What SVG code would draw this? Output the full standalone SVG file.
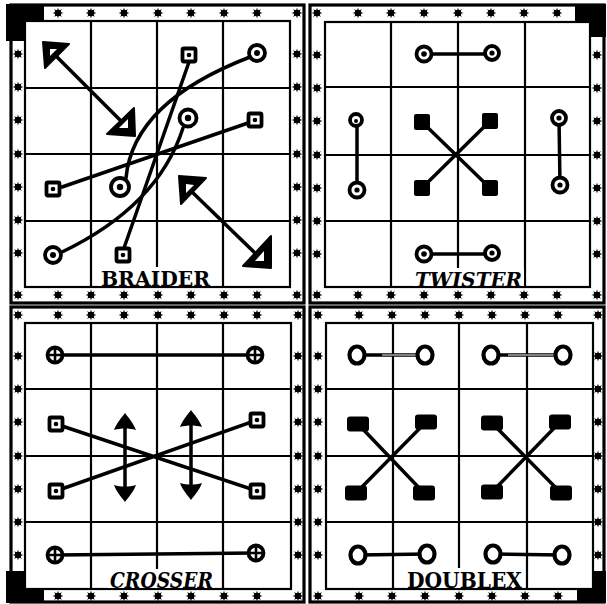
<svg xmlns="http://www.w3.org/2000/svg" xmlns:xlink="http://www.w3.org/1999/xlink" width="607" height="604" viewBox="0 0 607 604">
<style>
.g{stroke:#000;stroke-width:2.2;fill:none}
.fr{stroke:#000;stroke-width:3.2;fill:none}
.blk{fill:#000}
.c{stroke:#000;stroke-width:3.5;fill:none;stroke-linecap:round}
.ring{fill:#fff;stroke:#000;stroke-width:3.8}
.lbl{font-family:"DejaVu Serif","Liberation Serif",serif;font-weight:bold;fill:#000}
.it{font-style:italic}
.bg{fill:#fff}
</style>
<defs>
<g id="s"><polygon points="5.5,0 2.2,0.9 3.9,3.9 0.9,2.2 0,5.5 -0.9,2.2 -3.9,3.9 -2.2,0.9 -5.5,0 -2.2,-0.9 -3.9,-3.9 -0.9,-2.2 0,-5.5 0.9,-2.2 3.9,-3.9 2.2,-0.9" fill="#000"/><circle r="3.3" fill="#000"/></g>
<g id="hrow"><use href="#s" x="33"/><use href="#s" x="66"/><use href="#s" x="99"/><use href="#s" x="133"/><use href="#s" x="166"/><use href="#s" x="199"/><use href="#s" x="232"/></g>
<g id="vrow"><use href="#s" y="33"/><use href="#s" y="66"/><use href="#s" y="99"/><use href="#s" y="133"/><use href="#s" y="166"/><use href="#s" y="199"/><use href="#s" y="232"/></g>
<g id="sqdot"><rect x="-6.5" y="-6.5" width="13" height="13" rx="1.5" fill="#fff" stroke="#000" stroke-width="3.8"/><circle r="2.3" fill="#000"/></g>
<g id="xc"><circle r="7.5" fill="#fff" stroke="#000" stroke-width="3.8"/><path d="M-7,0H7M0,-7V7" stroke="#000" stroke-width="2.6"/></g>
<rect id="fsq" x="-8" y="-8" width="16" height="16" rx="2" fill="#000"/>
<rect id="frect" x="-11" y="-7.5" width="22" height="15" rx="3" fill="#000"/>
<ellipse id="oring" rx="7.5" ry="8.5" fill="#fff" stroke="#000" stroke-width="4.2"/>
<path id="ah" d="M0,0 C3,4 9,11 11,17 C4,15 -4,15 -11,17 C-9,11 -3,4 0,0Z" fill="#000"/>
</defs>
<rect width="607" height="604" fill="#fff"/>

<g id="panel-braider">
<rect class="fr" x="11" y="5" width="293" height="298"/>
<rect class="g" x="25" y="21" width="265" height="266"/>
<path class="g" d="M91,21V287M157,21V287M223,21V287M25,88H290M25,154H290M25,221H290"/>
<use href="#hrow" x="25" y="13"/><use href="#hrow" x="25" y="295"/>
<use href="#vrow" x="18" y="21"/><use href="#vrow" x="297" y="21"/>
<use href="#s" x="297" y="13"/><use href="#s" x="18" y="295"/><use href="#s" x="297" y="295"/>
<path class="blk" d="M6,4H44V20H24V41H6Z"/>
</g>

<g id="panel-twister">
<rect class="fr" x="310" y="5" width="294" height="298"/>
<rect class="g" x="325" y="22" width="265" height="265"/>
<path class="g" d="M391,22V287M458,22V287M525,22V287M325,87H590M325,155H590M325,221H590"/>
<use href="#hrow" x="325" y="13"/><use href="#hrow" x="325" y="295"/>
<use href="#vrow" x="317" y="22"/><use href="#vrow" x="597" y="22"/>
<use href="#s" x="317" y="13"/><use href="#s" x="317" y="295"/><use href="#s" x="597" y="295"/>
<path class="blk" d="M575,4H606V37H591V21H575Z"/>
</g>

<g id="panel-crosser">
<rect class="fr" x="11" y="307" width="293" height="295"/>
<rect class="g" x="25" y="323" width="266" height="266"/>
<path class="g" d="M91,323V589M157,323V589M223,323V589M25,389H291M25,456H291M25,522H291"/>
<use href="#hrow" x="25" y="315"/><use href="#hrow" x="25" y="596"/>
<use href="#vrow" x="18" y="323"/><use href="#vrow" x="298" y="323"/>
<use href="#s" x="18" y="315"/><use href="#s" x="298" y="315"/><use href="#s" x="298" y="596"/>
<path class="blk" d="M6,571H24V589H44V603H6Z"/>
</g>

<g id="panel-doublex">
<rect class="fr" x="310" y="307" width="294" height="295"/>
<rect class="g" x="326" y="323" width="267" height="266"/>
<path class="g" d="M393,323V589M459,323V589M527,323V589M326,389H593M326,456H593M326,522H593"/>
<use href="#hrow" x="326" y="315"/><use href="#hrow" x="326" y="596"/>
<use href="#vrow" x="318" y="323"/><use href="#vrow" x="598" y="323"/>
<use href="#s" x="318" y="315"/><use href="#s" x="598" y="315"/><use href="#s" x="318" y="596"/>
<path class="blk" d="M592,571H606V603H577V589H592Z"/>
</g>

<g id="connectors">
<!-- braider -->
<path class="c" d="M189,62L124,248"/>
<path class="c" d="M248,123L62,187"/>
<path class="c" d="M250,57Q133,102 126,178"/>
<path class="c" d="M183,128Q158,206 62,252"/>
<path class="c" stroke-width="4.5" d="M56,56L122,122"/>
<path class="c" stroke-width="6" d="M190,190L258,256"/>
<polygon points="43,42 69,44 45,68" fill="#000" stroke="#000" stroke-width="2" stroke-linejoin="round"/>
<polygon points="50,49 57,49 50,56" fill="#fff"/>
<polygon points="134,108 135,136 107,134" fill="#000" stroke="#000" stroke-width="2" stroke-linejoin="round"/>
<polygon points="128,119 128,128 119,128" fill="#fff"/>
<polygon points="179,176 206,178 181,204" fill="#000" stroke="#000" stroke-width="2" stroke-linejoin="round"/>
<polygon points="186,184 194,185 186,193" fill="#fff"/>
<polygon points="271,236 271,268 243,266" fill="#000" stroke="#000" stroke-width="2" stroke-linejoin="round"/>
<polygon points="264,251 264,261 255,261" fill="#fff"/>
<!-- twister -->
<path class="c" stroke-width="3.8" d="M424,54H492M357,120V190M559,118L560,185M424,254H492"/>
<path class="c" stroke-width="4.2" d="M422,122L490,188M490,121L422,188"/>
<!-- crosser -->
<path class="c" stroke-width="4.8" d="M55,355H255M55,555L256,553"/>
<path class="c" stroke-width="3.8" d="M56,424L257,491M56,491L257,420"/>
<path class="c" stroke-width="7" stroke-linecap="butt" d="M125,425V490M191,422V488"/>
<use href="#ah" transform="translate(125,413)"/>
<use href="#ah" transform="translate(125,502) rotate(180)"/>
<use href="#ah" transform="translate(191,410)"/>
<use href="#ah" transform="translate(191,500) rotate(180)"/>
<!-- doublex -->
<path class="c" stroke-width="6" d="M357,355H425M491,355H563"/>
<path stroke="#fff" stroke-width="1" d="M382,355H417M508,355H555"/>
<path class="c" stroke-width="5" d="M358,555L427,554M493,554L562,555"/>
<path class="c" stroke-width="4.5" d="M358,424L424,493M426,422L356,493M492,423L561,493M560,422L492,492"/>
</g>

<g id="braider-nodes">
<g id="b-sq1"><use href="#sqdot" x="189" y="55"/></g>
<g id="b-sq2"><use href="#sqdot" x="255" y="120"/></g>
<g id="b-sq3"><use href="#sqdot" x="53" y="189"/></g>
<g id="b-sq4"><use href="#sqdot" x="123" y="255"/></g>
<g id="b-c1"><circle class="ring" cx="257" cy="53" r="8"/><circle cx="257" cy="53" r="3" fill="#000"/></g>
<g id="b-c2"><circle class="ring" cx="188" cy="118" r="8.5"/><circle cx="188" cy="118" r="3.2" fill="#000"/></g>
<g id="b-c3"><circle class="ring" cx="120" cy="187" r="9"/><circle cx="120" cy="187" r="3.2" fill="#000"/></g>
<g id="b-c4"><circle class="ring" cx="53" cy="255" r="8"/><circle cx="53" cy="255" r="3" fill="#000"/></g>
</g>

<g id="twister-nodes">
<g id="t-c1"><circle class="ring" cx="424" cy="54" r="7.5"/><circle cx="424" cy="54" r="2.8" fill="#000"/></g>
<g id="t-c2"><circle class="ring" cx="492" cy="53" r="7"/><circle cx="492" cy="53" r="2.6" fill="#000"/></g>
<g id="t-c3"><circle class="ring" stroke-width="2.8" cx="356" cy="120" r="6"/><circle cx="356" cy="121" r="2" fill="#000"/></g>
<g id="t-c4"><circle class="ring" cx="357" cy="190" r="7.5"/><circle cx="357" cy="190" r="2.6" fill="#000"/></g>
<g id="t-c5"><circle class="ring" cx="559" cy="118" r="7"/><circle cx="559" cy="118" r="2.6" fill="#000"/></g>
<g id="t-c6"><circle class="ring" cx="560" cy="185" r="7.5"/><circle cx="560" cy="185" r="2.6" fill="#000"/></g>
<g id="t-c7"><circle class="ring" cx="424" cy="254" r="7.5"/><circle cx="424" cy="254" r="2.8" fill="#000"/></g>
<g id="t-c8"><circle class="ring" cx="492" cy="253" r="7"/><circle cx="492" cy="253" r="2.6" fill="#000"/></g>
<g id="t-s1"><use href="#fsq" x="422" y="122"/></g>
<g id="t-s2"><use href="#fsq" x="490" y="121"/></g>
<g id="t-s3"><use href="#fsq" x="422" y="188"/></g>
<g id="t-s4"><use href="#fsq" x="490" y="188"/></g>
</g>

<g id="crosser-nodes">
<g id="c-x1"><use href="#xc" x="55" y="355"/></g>
<g id="c-x2"><use href="#xc" x="255" y="355"/></g>
<g id="c-x3"><use href="#xc" x="55" y="555"/></g>
<g id="c-x4"><use href="#xc" x="256" y="553"/></g>
<g id="c-s1"><use href="#sqdot" x="56" y="424"/></g>
<g id="c-s2"><use href="#sqdot" x="257" y="420"/></g>
<g id="c-s3"><use href="#sqdot" x="56" y="491"/></g>
<g id="c-s4"><use href="#sqdot" x="257" y="491"/></g>
</g>

<g id="doublex-nodes">
<g id="d-o1"><use href="#oring" x="357" y="355"/></g>
<g id="d-o2"><use href="#oring" x="425" y="355"/></g>
<g id="d-o3"><use href="#oring" x="491" y="355"/></g>
<g id="d-o4"><use href="#oring" x="563" y="355"/></g>
<g id="d-o5"><use href="#oring" x="358" y="555"/></g>
<g id="d-o6"><use href="#oring" x="427" y="554"/></g>
<g id="d-o7"><use href="#oring" x="493" y="554"/></g>
<g id="d-o8"><use href="#oring" x="562" y="555"/></g>
<g id="d-r1"><use href="#frect" x="358" y="424"/></g>
<g id="d-r2"><use href="#frect" x="426" y="422"/></g>
<g id="d-r3"><use href="#frect" x="356" y="493"/></g>
<g id="d-r4"><use href="#frect" x="424" y="493"/></g>
<g id="d-r5"><use href="#frect" x="492" y="423"/></g>
<g id="d-r6"><use href="#frect" x="560" y="422"/></g>
<g id="d-r7"><use href="#frect" x="492" y="492"/></g>
<g id="d-r8"><use href="#frect" x="561" y="493"/></g>
</g>

<g id="labels">
<rect class="bg" x="99" y="267" width="114" height="19"/>
<text class="lbl" x="101" y="286" font-size="21" textLength="109" lengthAdjust="spacingAndGlyphs">BRAIDER</text>
<rect class="bg" x="413" y="268" width="111" height="18"/>
<text class="lbl it" x="415" y="287" font-size="21" textLength="107" lengthAdjust="spacingAndGlyphs">TWISTER</text>
<rect class="bg" x="108" y="569" width="107" height="19"/>
<text class="lbl it" x="110" y="588" font-size="22" textLength="103" lengthAdjust="spacingAndGlyphs">CROSSER</text>
<rect class="bg" x="405" y="568" width="119" height="20"/>
<text class="lbl" x="407" y="588" font-size="23" textLength="115" lengthAdjust="spacingAndGlyphs">DOUBLEX</text>
</g>
</svg>
